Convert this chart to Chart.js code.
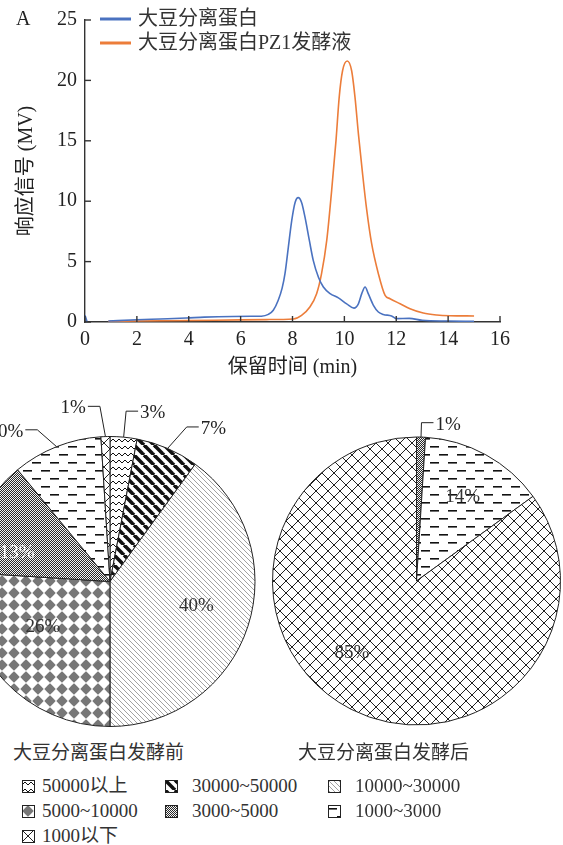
<!DOCTYPE html>
<html>
<head>
<meta charset="utf-8">
<script src="https://cdn.jsdelivr.net/npm/chart.js@4.4.1/dist/chart.umd.min.js"></script>
<style>
  body { margin:0; width:563px; height:845px; overflow:hidden; position:relative; background:#fff;
         font-family:"Liberation Serif","Noto Sans CJK SC",serif; color:#222; }
  canvas { position:absolute; }
  #line { left:0; top:0; }
  #pieBefore { left:-76px; top:395px; }
  #pieAfter { left:231.5px; top:395px; }
  .ptitle { position:absolute; top:737px; font-size:19px; white-space:nowrap; color:#333; }
  .leg { position:absolute; font-size:19px; white-space:nowrap; line-height:20px; color:#333; }
  .leg canvas { position:absolute; left:0; top:4px; }
  .leg span { position:absolute; top:0; }
</style>
</head>
<body>
<canvas id="line" width="563" height="390"></canvas>
<canvas id="pieBefore" width="350" height="340"></canvas>
<canvas id="pieAfter" width="330" height="340"></canvas>
<div class="ptitle" style="left:13px">大豆分离蛋白发酵前</div>
<div class="ptitle" style="left:298px">大豆分离蛋白发酵后</div>
<div id="legend"></div>
<script>
//DATA - line chart
var seriesNames = ['大豆分离蛋白', '大豆分离蛋白PZ1发酵液'];
var blueTime   = [0, 0.08, 0.5, 0.9, 2.0, 2.9, 3.9, 4.6, 5.7, 6.4, 6.8, 7.07, 7.26, 7.45, 7.6, 7.71, 7.84, 7.97, 8.1, 8.22, 8.35, 8.48, 8.65, 8.8, 9.0, 9.19, 9.45, 9.77, 10.09, 10.37, 10.54, 10.67, 10.8, 10.92, 11.12, 11.31, 11.5, 11.82, 12.0, 12.5, 13.0, 14.0, 15.0];
var blueSignal = [0.55, 0.02, null, 0.08, 0.18, 0.25, 0.33, 0.4, 0.46, 0.47, 0.48, 0.63, 0.97, 1.8, 2.8, 4.0, 6.2, 8.4, 9.9, 10.3, 9.9, 8.7, 6.75, 5.1, 3.7, 2.9, 2.35, 2.0, 1.5, 1.15, 1.5, 2.35, 2.9, 2.35, 1.38, 0.83, 0.63, 0.5, 0.28, 0.3, 0.14, 0.08, 0.05];
var orangeTime   = [0.9, 2.0, 4.0, 6.0, 7.0, 8.03, 8.35, 8.67, 8.93, 9.12, 9.32, 9.51, 9.68, 9.8, 9.93, 10.11, 10.28, 10.41, 10.54, 10.7, 10.86, 11.05, 11.31, 11.57, 11.76, 12.15, 12.53, 13.04, 13.56, 14.07, 15.0];
var orangeSignal = [0.05, 0.08, 0.12, 0.18, 0.2, 0.25, 0.55, 1.24, 2.34, 4.0, 6.75, 10.9, 15.1, 18.6, 20.8, 21.6, 20.8, 18.6, 15.6, 12.3, 9.3, 6.5, 4.0, 2.2, 1.93, 1.51, 1.1, 0.74, 0.58, 0.52, 0.5];
var xTicks = [0, 2, 4, 6, 8, 10, 12, 14, 16];
var yTicks = [0, 5, 10, 15, 20, 25];

//DATA - pies
var sizeClasses  = ['50000以上', '30000~50000', '10000~30000', '5000~10000', '3000~5000', '1000~3000', '1000以下'];
var beforeShare  = [3, 7, 40, 26, 13, 10, 1];
var afterShare   = [0, 0, 0, 0, 1, 14, 85];

var serif = '"Liberation Serif", "Noto Sans CJK SC", serif';

function pts(xs, ys) {
  return xs.map(function (x, i) { return {x: x, y: ys[i]}; });
}

//-------------
//- PATTERNS -
//-------------
function tile(kind) {
  var c = document.createElement('canvas');
  var g = c.getContext('2d');
  var w = 12, h = 12;
  if (kind == 0) { w = 6; h = 7; }
  if (kind == 1) { w = 10; h = 10; }
  if (kind == 2) { w = 5; h = 5; }
  if (kind == 4) { w = 2; h = 2; }
  if (kind == 5) { w = 18; h = 16; }
  c.width = w; c.height = h;
  g.fillStyle = '#fff';
  g.fillRect(0, 0, w, h);
  g.strokeStyle = '#111';
  g.fillStyle = '#111';
  if (kind == 0) {          // zigzag
    g.lineWidth = 1;
    g.beginPath(); g.moveTo(0, 5); g.lineTo(3, 2); g.lineTo(6, 5); g.stroke();
  } else if (kind == 1) {   // thick "\" stripes
    g.lineWidth = 3.6;
    for (var k = -10; k <= 10; k += 10) { g.beginPath(); g.moveTo(k, 0); g.lineTo(k + 10, 10); g.stroke(); }
  } else if (kind == 2) {   // fine gray "\" lines
    g.strokeStyle = '#8a8a8a'; g.lineWidth = 0.8;
    for (var k = -5; k <= 5; k += 5) { g.beginPath(); g.moveTo(k, 0); g.lineTo(k + 5, 5); g.stroke(); }
  } else if (kind == 3) {   // gray diamonds
    g.fillStyle = '#777';
    g.beginPath();
    g.moveTo(6, 0.3); g.quadraticCurveTo(9, 3, 11.7, 6); g.quadraticCurveTo(9, 9, 6, 11.7);
    g.quadraticCurveTo(3, 9, 0.3, 6); g.quadraticCurveTo(3, 3, 6, 0.3);
    g.fill();
  } else if (kind == 4) {   // fine checker
    g.fillStyle = '#f4f4f4'; g.fillRect(0, 0, 2, 2);
    g.fillStyle = '#2a2a2a'; g.fillRect(0, 0, 1, 1); g.fillRect(1, 1, 1, 1);
  } else if (kind == 5) {   // dashes
    g.fillRect(0, 3, 9, 1.6); g.fillRect(9, 11, 9, 1.6);
  } else if (kind == 6) {   // crosshatch
    g.strokeStyle = '#222'; g.lineWidth = 1;
    g.beginPath(); g.moveTo(0, 0); g.lineTo(12, 12); g.moveTo(12, 0); g.lineTo(0, 12); g.stroke();
  }
  return c;
}
var tiles = sizeClasses.map(function (s, i) { return tile(i); });
function fillsFor(ctx) {
  return tiles.map(function (t) { return ctx.createPattern(t, 'repeat'); });
}

//-------------
//- LINE CHART -
//-------------
var lineDeco = {
  id: 'lineDeco',
  afterDraw: function (chart) {
    var ctx = chart.ctx, a = chart.chartArea, x = chart.scales.x, y = chart.scales.y;
    ctx.save();
    ctx.strokeStyle = '#333';
    ctx.lineWidth = 1.4;
    x.ticks.forEach(function (t) {
      var p = x.getPixelForValue(t.value);
      ctx.beginPath(); ctx.moveTo(p, a.bottom); ctx.lineTo(p, a.bottom - 6); ctx.stroke();
    });
    y.ticks.forEach(function (t) {
      var p = y.getPixelForValue(t.value);
      ctx.beginPath(); ctx.moveTo(a.left, p); ctx.lineTo(a.left + 6, p); ctx.stroke();
    });
    // legend
    ctx.font = '20px ' + serif;
    ctx.textBaseline = 'middle';
    chart.data.datasets.forEach(function (d, i) {
      var ly = 19 + 24 * i;
      ctx.strokeStyle = d.borderColor;
      ctx.lineWidth = 3;
      ctx.beginPath(); ctx.moveTo(100, ly); ctx.lineTo(131, ly); ctx.stroke();
      ctx.fillStyle = '#333';
      ctx.fillText(d.label, 138, ly + 1);
    });
    ctx.fillStyle = '#222';
    ctx.fillText('A', 16, 20);
    ctx.restore();
  }
};

var lines = document.getElementById('line').getContext('2d');
var c_line = new Chart(lines, {
  type: 'line',
  data: {
    datasets: [
      {label: seriesNames[0], data: pts(blueTime, blueSignal), borderColor: '#4a72c0', borderWidth: 1.6,
       pointRadius: 0, cubicInterpolationMode: 'monotone', spanGaps: false, fill: false},
      {label: seriesNames[1], data: pts(orangeTime, orangeSignal), borderColor: '#ec7d3a', borderWidth: 1.6,
       pointRadius: 0, cubicInterpolationMode: 'monotone', fill: false}
    ]
  },
  options: {
    responsive: false,
    animation: false,
    layout: {padding: {top: 19, right: 63, left: 0, bottom: 0}},
    plugins: {legend: {display: false}, tooltip: {enabled: false}},
    scales: {
      x: {
        type: 'linear', min: 0, max: 16,
        afterBuildTicks: function (s) { s.ticks = xTicks.map(function (v) { return {value: v}; }); },
        afterFit: function (s) { s.height = 68; },
        grid: {display: false, drawTicks: false},
        border: {display: true, color: '#333', width: 1.4},
        ticks: {padding: 6, color: '#222', font: {size: 20, family: serif}},
        title: {display: true, text: '保留时间 (min)', color: '#222', font: {size: 20, family: serif},
                padding: {top: 0, bottom: 10}}
      },
      y: {
        min: 0, max: 25,
        afterBuildTicks: function (s) { s.ticks = yTicks.map(function (v) { return {value: v}; }); },
        afterFit: function (s) { s.width = 85; },
        grid: {display: false, drawTicks: false},
        border: {display: true, color: '#333', width: 1.4},
        ticks: {padding: 8, color: '#222', font: {size: 20, family: serif}},
        title: {display: true, text: '响应信号 (MV)', color: '#222', font: {size: 20, family: serif},
                padding: {top: 15, bottom: 0}}
      }
    }
  },
  plugins: [lineDeco]
});

//-------------
//- PIE CHARTS -
//-------------
var sliceLabels = {
  id: 'sliceLabels',
  afterDatasetsDraw: function (chart, args, opts) {
    var ctx = chart.ctx, vals = chart.data.datasets[0].data;
    ctx.save();
    ctx.font = '19px ' + serif;
    ctx.textBaseline = 'middle';
    chart.getDatasetMeta(0).data.forEach(function (arc, i) {
      var v = vals[i];
      if (!v) return;
      var p = arc.getProps(['x', 'y', 'startAngle', 'endAngle', 'outerRadius'], true);
      var mid = (p.startAngle + p.endAngle) / 2, r = p.outerRadius;
      var txt = v + '%';
      if (v <= 10) {
        var ld = opts.lead[i] || [opts.elbow, 0];
        var la = mid + ld[1] * Math.PI / 180;
        var ex = p.x + ld[0] * r * Math.cos(la), ey = p.y + ld[0] * r * Math.sin(la);
        var dir = Math.cos(mid) >= 0 ? 1 : -1;
        ctx.strokeStyle = '#222'; ctx.lineWidth = 1;
        ctx.beginPath();
        ctx.moveTo(p.x + r * Math.cos(mid), p.y + r * Math.sin(mid));
        ctx.lineTo(ex, ey);
        ctx.lineTo(ex + dir * 12, ey);
        ctx.stroke();
        ctx.fillStyle = '#222';
        ctx.textAlign = dir > 0 ? 'left' : 'right';
        ctx.fillText(txt, ex + dir * 14, ey + 2);
      } else {
        var pl = opts.place[i] || [0.62, 0];
        var a = mid + pl[1] * Math.PI / 180;
        ctx.textAlign = 'center';
        ctx.fillStyle = i == 4 ? '#fff' : '#333';
        ctx.fillText(txt, p.x + pl[0] * r * Math.cos(a), p.y + pl[0] * r * Math.sin(a));
      }
    });
    ctx.restore();
  }
};

function create_pie(id, share, pad, placing) {
  var ctx = document.getElementById(id).getContext('2d');
  return new Chart(ctx, {
    type: 'pie',
    data: {labels: sizeClasses,
           datasets: [{data: share, backgroundColor: fillsFor(ctx), borderColor: '#222', borderWidth: 1}]},
    options: {
      responsive: false,
      animation: false,
      layout: {padding: pad},
      plugins: {legend: {display: false}, tooltip: {enabled: false}, sliceLabels: placing}
    },
    plugins: [sliceLabels]
  });
}

var pie1 = create_pie('pieBefore', beforeShare,
  {left: 40.5, top: 41, right: 18.5, bottom: 8},
  {elbow: 1.18, lead: {1: [1.19, 3], 5: [1.16, -4], 6: [1.21, -1.5]},
   place: {2: [0.62, -2], 3: [0.56, 9], 4: [0.67, -10]}});
var pie2 = create_pie('pieAfter', afterShare,
  {left: 40, top: 41.5, right: 1, bottom: 9.5},
  {elbow: 1.1, lead: {}, place: {5: [0.665, 0], 6: [0.67, 15]}});

//- LEGEND -
var legend = document.getElementById('legend');
var colX = [22, 165, 328], rowY = [776, 801, 826];
sizeClasses.forEach(function (name, i) {
  var d = document.createElement('div');
  d.className = 'leg';
  d.style.left = colX[i % 3] + 'px';
  d.style.top = rowY[Math.floor(i / 3)] + 'px';
  var sw = document.createElement('canvas');
  sw.width = 13; sw.height = 13;
  var g = sw.getContext('2d');
  g.fillStyle = g.createPattern(tiles[i], 'repeat');
  g.fillRect(0, 0, 13, 13);
  g.strokeStyle = '#222'; g.lineWidth = 1;
  g.strokeRect(0.5, 0.5, 12, 12);
  var s = document.createElement('span');
  s.textContent = name;
  s.style.left = (i % 3 == 0 ? 20 : 27) + 'px';
  d.appendChild(sw); d.appendChild(s);
  legend.appendChild(d);
});
</script>
</body>
</html>
